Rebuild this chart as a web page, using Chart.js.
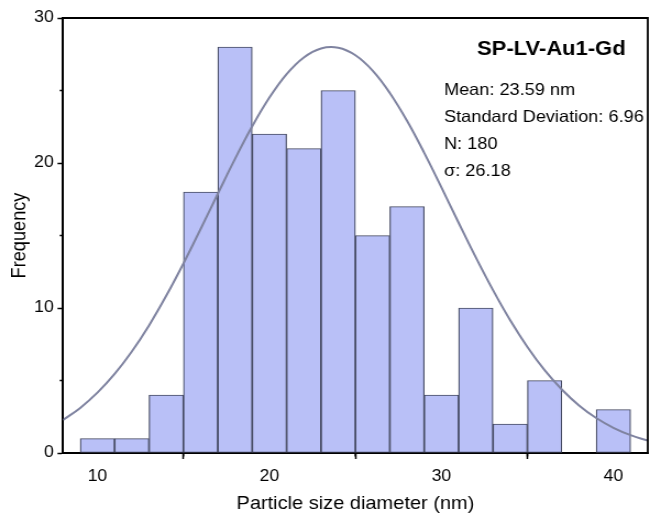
<!DOCTYPE html>
<html><head><meta charset="utf-8">
<script src="https://cdn.jsdelivr.net/npm/chart.js@4/dist/chart.umd.min.js"></script>
<style>html,body{margin:0;padding:0;background:#fff;overflow:hidden}</style>
</head><body>
<canvas id="c" width="591" height="516" style="display:block;width:650px;height:516px"></canvas>
<script>
// ---- data ----
const binCenters = [10, 12, 14, 16, 18, 20, 22, 24, 26, 28, 30, 32, 34, 36, 38, 40];
const counts     = [1, 1, 4, 18, 28, 22, 21, 25, 15, 17, 4, 10, 2, 5, null, 3];
const curveX = [8, 9, 10, 11, 12, 13, 14, 15, 16, 17, 18, 19, 20, 21, 22, 23, 24, 25,
                26, 27, 28, 29, 30, 31, 32, 33, 34, 35, 36, 37, 38, 39, 40, 41, 42];
const curveY = [2.28, 3.11, 4.16, 5.45, 7.00, 8.80, 10.84, 13.07, 15.45, 17.88, 20.28, 22.53,
                24.51, 26.13, 27.28, 27.90, 27.95, 27.43, 26.37, 24.83, 22.91, 20.70, 18.32,
                15.88, 13.49, 11.23, 9.15, 7.31, 5.71, 4.38, 3.28, 2.41, 1.74, 1.23, 0.85];
const xTicks = [10, 20, 30, 40];
const yTicks = [0, 10, 20, 30];
const xMinorTicks = [15, 25, 35];
const yMinorTicks = [5, 15, 25];
const xTitle = 'Particle size diameter (nm)';
const yTitle = 'Frequency';
const sampleName = 'SP-LV-Au1-Gd';
const statsLines = ['Mean: 23.59 nm', 'Standard Deviation: 6.96', 'N: 180', 'σ: 26.18'];

const FONT = '"Liberation Sans", Arial, sans-serif';

const extras = {
  id: 'extras',
  afterDraw(chart) {
    const {ctx, chartArea: a, scales: {x, y}} = chart;
    ctx.save();
    ctx.strokeStyle = '#000';
    ctx.lineWidth = 1.5;
    ctx.beginPath();
    xMinorTicks.forEach(v => { const p = x.getPixelForValue(v); ctx.moveTo(p, a.bottom); ctx.lineTo(p, a.bottom + 3.5); });
    yMinorTicks.forEach(v => { const p = y.getPixelForValue(v); ctx.moveTo(a.left, p); ctx.lineTo(a.left - 3, p); });
    ctx.stroke();
    // frame top + right
    ctx.lineWidth = 1.8;
    ctx.beginPath();
    ctx.moveTo(a.left, a.top); ctx.lineTo(a.right, a.top); ctx.lineTo(a.right, a.bottom);
    ctx.stroke();
    // annotation text
    ctx.fillStyle = '#000';
    ctx.textBaseline = 'alphabetic';
    ctx.textAlign = 'left';
    ctx.font = 'bold 20px ' + FONT;
    ctx.fillText(sampleName, 433.7, 55);
    ctx.font = '16.5px ' + FONT;
    const bl = [94.5, 121.5, 149, 176];
    statsLines.forEach((t, i) => ctx.fillText(t, 403.7, bl[i]));
    ctx.restore();
  }
};

new Chart(document.getElementById('c'), {
  type: 'bar',
  data: {
    datasets: [
      {
        type: 'line',
        data: curveX.map((v, i) => ({x: v, y: curveY[i]})),
        borderColor: '#7f83a0',
        borderWidth: 2,
        pointRadius: 0,
        tension: 0.4,
        fill: false,
        order: 0
      },
      {
        type: 'bar',
        data: binCenters.map((v, i) => ({x: v, y: counts[i]})),
        backgroundColor: '#b9c0f7',
        borderColor: '#454a62',
        borderWidth: 1.2,
        borderSkipped: false,
        barPercentage: 1,
        categoryPercentage: 1,
        order: 1
      }
    ]
  },
  options: {
    responsive: false,
    animation: false,
    devicePixelRatio: 1,
    layout: {padding: {top: 18, right: 2, bottom: 0, left: 0}},
    plugins: {legend: {display: false}, tooltip: {enabled: false}},
    scales: {
      x: {
        type: 'linear', min: 8, max: 42, offset: false,
        afterBuildTicks: s => { s.ticks = xTicks.map(v => ({value: v})); },
        afterFit: s => { s.height = 63; },
        ticks: {font: {family: FONT, size: 16}, color: '#000', padding: 7.5, maxRotation: 0, autoSkip: false},
        grid: {drawOnChartArea: false, drawTicks: true, tickLength: 6, tickColor: '#000', tickWidth: 1.5},
        border: {display: true, color: '#000', width: 2},
        title: {display: true, text: xTitle, color: '#000', font: {family: FONT, size: 18.2}, padding: {top: 0, bottom: 1}}
      },
      y: {
        type: 'linear', min: 0, max: 30,
        afterBuildTicks: s => { s.ticks = yTicks.map(v => ({value: v})); },
        afterFit: s => { s.width = 57.3; },
        ticks: {font: {family: FONT, size: 16}, color: '#000', padding: 3.5},
        grid: {drawOnChartArea: false, drawTicks: true, tickLength: 5, tickColor: '#000', tickWidth: 1.5},
        border: {display: true, color: '#000', width: 2},
        title: {display: true, text: yTitle, color: '#000', font: {family: FONT, size: 18.2}, padding: {top: 7, bottom: 0}}
      }
    }
  },
  plugins: [extras]
});
</script>
</body></html>
